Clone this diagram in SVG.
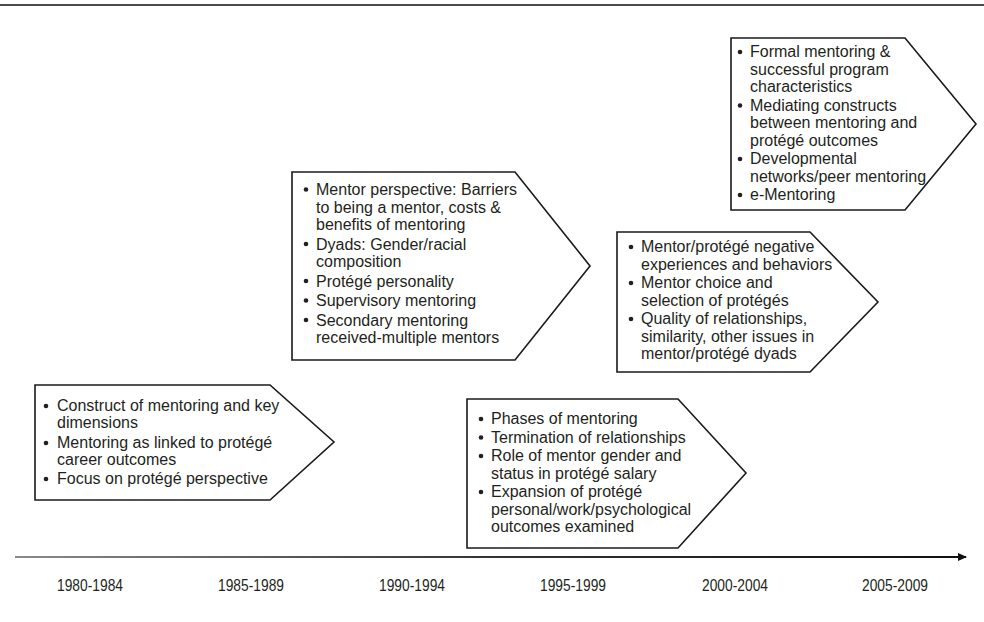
<svg xmlns="http://www.w3.org/2000/svg" width="984" height="622" viewBox="0 0 984 622">
<style>
.box{fill:#fff;stroke:#1a1a1a;stroke-width:1.6;stroke-linejoin:miter}
.t{font-family:"Liberation Sans",Arial,sans-serif;font-size:16px;fill:#231f20}
.yr{font-family:"Liberation Sans",Arial,sans-serif;font-size:16.5px;fill:#231f20;text-anchor:middle}
.b{fill:#231f20}
</style>
<defs>
<linearGradient id="ax" gradientUnits="userSpaceOnUse" x1="15" y1="0" x2="966" y2="0">
<stop offset="0" stop-color="#8a8a8a"/>
<stop offset="0.5" stop-color="#333"/>
<stop offset="1" stop-color="#111"/>
</linearGradient>
<marker id="arr" markerWidth="9" markerHeight="8" refX="8" refY="4" orient="auto" markerUnits="userSpaceOnUse">
<path d="M0,0 L9,4 L0,8 Z" fill="#111"/>
</marker>
</defs>
<rect width="984" height="622" fill="#fff"/>
<line x1="0" y1="5" x2="984" y2="5" stroke="#4a4a4a" stroke-width="2"/>

<g id="connectors">
<path d="M15,557 H966" fill="none" stroke="url(#ax)" stroke-width="1.8" marker-end="url(#arr)"/>
</g>

<g id="box1980">
<path class="box" d="M35,385 H270 L334,442 L270,500 H35 Z"/>
<g class="b"><circle cx="46" cy="406" r="2.3"/><circle cx="46" cy="443" r="2.3"/><circle cx="46" cy="479" r="2.3"/></g>
<text class="t"><tspan x="57" y="411">Construct of mentoring and key</tspan><tspan x="57" y="428">dimensions</tspan><tspan x="57" y="447.5">Mentoring as linked to protégé</tspan><tspan x="57" y="465">career outcomes</tspan><tspan x="57" y="484">Focus on protégé perspective</tspan></text>
</g>

<g id="box1990">
<path class="box" d="M292,172 H515 L590,266 L515,360 H292 Z"/>
<g class="b"><circle cx="306" cy="189.5" r="2.3"/><circle cx="306" cy="244" r="2.3"/><circle cx="306" cy="281" r="2.3"/><circle cx="306" cy="300.5" r="2.3"/><circle cx="306" cy="320" r="2.3"/></g>
<text class="t"><tspan x="316" y="195">Mentor perspective: Barriers</tspan><tspan x="316" y="212.5">to being a mentor, costs &amp;</tspan><tspan x="316" y="230">benefits of mentoring</tspan><tspan x="316" y="249.5">Dyads: Gender/racial</tspan><tspan x="316" y="267">composition</tspan><tspan x="316" y="286.5">Protégé personality</tspan><tspan x="316" y="306">Supervisory mentoring</tspan><tspan x="316" y="325.5">Secondary mentoring</tspan><tspan x="316" y="343">received-multiple mentors</tspan></text>
</g>

<g id="box1995">
<path class="box" d="M467,399 H678 L746,473 L678,548 H467 Z"/>
<g class="b"><circle cx="481" cy="419" r="2.3"/><circle cx="481" cy="437.5" r="2.3"/><circle cx="481" cy="456" r="2.3"/><circle cx="481" cy="492" r="2.3"/></g>
<text class="t"><tspan x="491" y="424">Phases of mentoring</tspan><tspan x="491" y="442.5">Termination of relationships</tspan><tspan x="491" y="461">Role of mentor gender and</tspan><tspan x="491" y="478.5">status in protégé salary</tspan><tspan x="491" y="497">Expansion of protégé</tspan><tspan x="491" y="514.5">personal/work/psychological</tspan><tspan x="491" y="532">outcomes examined</tspan></text>
</g>

<g id="box2000">
<path class="box" d="M617,232 H810 L878,302 L810,372 H617 Z"/>
<g class="b"><circle cx="631" cy="247" r="2.3"/><circle cx="631" cy="283" r="2.3"/><circle cx="631" cy="319" r="2.3"/></g>
<text class="t"><tspan x="641" y="252">Mentor/protégé negative</tspan><tspan x="641" y="269.5">experiences and behaviors</tspan><tspan x="641" y="288">Mentor choice and</tspan><tspan x="641" y="305.5">selection of protégés</tspan><tspan x="641" y="324">Quality of relationships,</tspan><tspan x="641" y="341.5">similarity, other issues in</tspan><tspan x="641" y="359">mentor/protégé dyads</tspan></text>
</g>

<g id="box2005">
<path class="box" d="M731,38 H905 L976,124 L905,210 H731 Z"/>
<g class="b"><circle cx="740" cy="52" r="2.3"/><circle cx="740" cy="105.5" r="2.3"/><circle cx="740" cy="159" r="2.3"/><circle cx="740" cy="195" r="2.3"/></g>
<text class="t"><tspan x="750" y="57">Formal mentoring &amp;</tspan><tspan x="750" y="74.5">successful program</tspan><tspan x="750" y="92">characteristics</tspan><tspan x="750" y="110.5">Mediating constructs</tspan><tspan x="750" y="128">between mentoring and</tspan><tspan x="750" y="145.5">protégé outcomes</tspan><tspan x="750" y="164">Developmental</tspan><tspan x="750" y="181.5">networks/peer mentoring</tspan><tspan x="750" y="200">e-Mentoring</tspan></text>
</g>

<g id="years">
<text class="yr" x="90" y="591" textLength="66" lengthAdjust="spacingAndGlyphs">1980-1984</text>
<text class="yr" x="251" y="591" textLength="66" lengthAdjust="spacingAndGlyphs">1985-1989</text>
<text class="yr" x="412" y="591" textLength="66" lengthAdjust="spacingAndGlyphs">1990-1994</text>
<text class="yr" x="573" y="591" textLength="66" lengthAdjust="spacingAndGlyphs">1995-1999</text>
<text class="yr" x="735" y="591" textLength="66" lengthAdjust="spacingAndGlyphs">2000-2004</text>
<text class="yr" x="895" y="591" textLength="66" lengthAdjust="spacingAndGlyphs">2005-2009</text>
</g>
</svg>
